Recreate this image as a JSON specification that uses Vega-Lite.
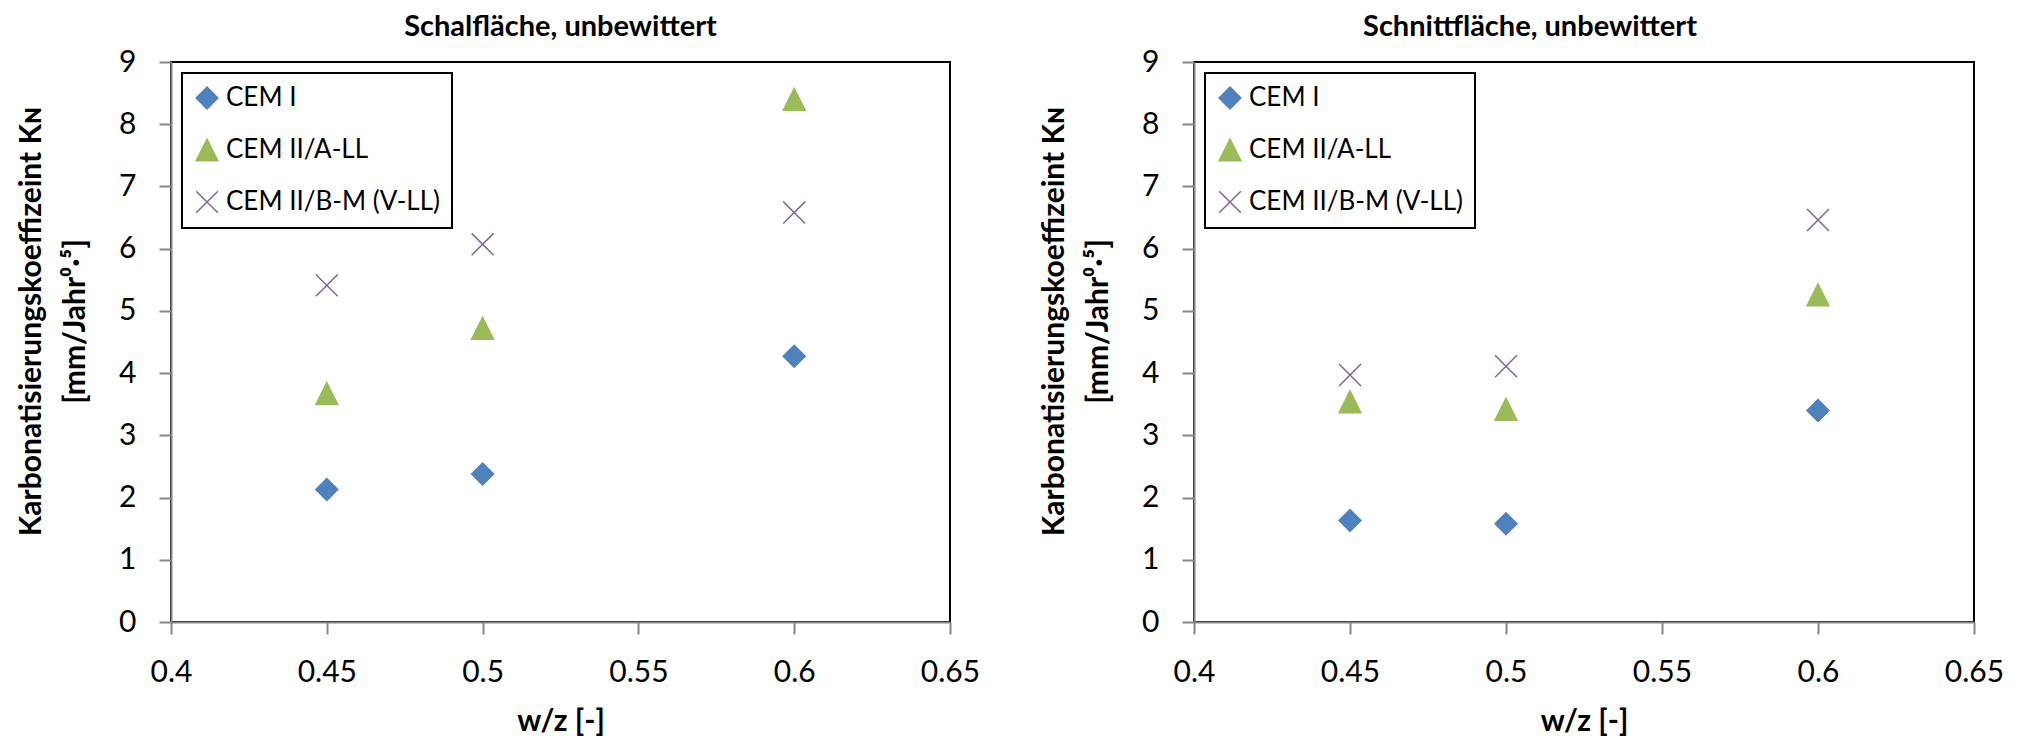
{
  "$schema": "https://vega.github.io/schema/vega-lite/v6.json",
  "background": "white",
  "padding": {"left": 15, "top": 12, "right": 10, "bottom": 0},
  "datasets": {
    "pts": [
      {"panel": "Schalfläche", "wz": 0.45, "k": 2.13, "cement": "CEM I"},
      {"panel": "Schalfläche", "wz": 0.5, "k": 2.38, "cement": "CEM I"},
      {"panel": "Schalfläche", "wz": 0.6, "k": 4.27, "cement": "CEM I"},
      {"panel": "Schalfläche", "wz": 0.45, "k": 3.67, "cement": "CEM II/A-LL"},
      {"panel": "Schalfläche", "wz": 0.5, "k": 4.72, "cement": "CEM II/A-LL"},
      {"panel": "Schalfläche", "wz": 0.6, "k": 8.4, "cement": "CEM II/A-LL"},
      {"panel": "Schalfläche", "wz": 0.45, "k": 5.41, "cement": "CEM II/B-M (V-LL)"},
      {"panel": "Schalfläche", "wz": 0.5, "k": 6.07, "cement": "CEM II/B-M (V-LL)"},
      {"panel": "Schalfläche", "wz": 0.6, "k": 6.58, "cement": "CEM II/B-M (V-LL)"},
      {"panel": "Schnittfläche", "wz": 0.45, "k": 1.63, "cement": "CEM I"},
      {"panel": "Schnittfläche", "wz": 0.5, "k": 1.58, "cement": "CEM I"},
      {"panel": "Schnittfläche", "wz": 0.6, "k": 3.4, "cement": "CEM I"},
      {"panel": "Schnittfläche", "wz": 0.45, "k": 3.54, "cement": "CEM II/A-LL"},
      {"panel": "Schnittfläche", "wz": 0.5, "k": 3.42, "cement": "CEM II/A-LL"},
      {"panel": "Schnittfläche", "wz": 0.6, "k": 5.26, "cement": "CEM II/A-LL"},
      {"panel": "Schnittfläche", "wz": 0.45, "k": 3.97, "cement": "CEM II/B-M (V-LL)"},
      {"panel": "Schnittfläche", "wz": 0.5, "k": 4.11, "cement": "CEM II/B-M (V-LL)"},
      {"panel": "Schnittfläche", "wz": 0.6, "k": 6.46, "cement": "CEM II/B-M (V-LL)"}
    ]
  },
  "config": {
    "font": "Lato",
    "view": {"stroke": "black", "strokeWidth": 2},
    "axis": {
      "grid": false,
      "domainColor": "#868686",
      "domainWidth": 2,
      "tickColor": "#868686",
      "tickWidth": 2,
      "tickSize": 12,
      "labelFont": "Lato",
      "labelFontSize": 30,
      "labelColor": "black",
      "labelPadding": 23,
      "labelOverlap": false,
      "labelFlush": false,
      "labelBound": false,
      "titleFont": "Lato",
      "titleFontSize": 30,
      "titleFontWeight": "bold",
      "titleColor": "black",
      "zindex": 1
    },
    "title": {
      "font": "Lato",
      "fontSize": 29,
      "fontWeight": "bold",
      "color": "black",
      "anchor": "middle",
      "frame": "group",
      "baseline": "alphabetic",
      "offset": 5
    },
    "legend": {
      "title": null,
      "strokeColor": "black",
      "strokeWidth": 2,
      "fillColor": "white",
      "padding": 12,
      "rowPadding": 24,
      "symbolSize": 470,
      "symbolStrokeWidth": 1.5,
      "labelFont": "Lato",
      "labelFontSize": 26,
      "labelColor": "black",
      "labelOffset": 6,
      "labelLimit": 0
    },
    "concat": {"spacing": 57}
  },
  "resolve": {
    "scale": {"fill": "independent", "stroke": "independent", "shape": "independent"},
    "legend": {"fill": "independent", "stroke": "independent", "shape": "independent"}
  },
  "hconcat": [
    {
      "title": {"text": "Schalfläche, unbewittert"},
      "width": 779,
      "height": 560,
      "data": {"name": "pts"},
      "transform": [{"filter": "datum.panel === 'Schalfläche'"}],
      "mark": {"type": "point", "filled": true, "size": 480, "strokeWidth": 1.5, "opacity": 1},
      "encoding": {
        "x": {
          "field": "wz", "type": "quantitative",
          "scale": {"domain": [0.4, 0.65], "nice": false, "zero": false},
          "axis": {"values": [0.4, 0.45, 0.5, 0.55, 0.6, 0.65], "format": "~g", "title": "w/z [-]", "titleY": 108, "titleBaseline": "alphabetic"}
        },
        "y": {
          "field": "k", "type": "quantitative",
          "scale": {"domain": [0, 9], "nice": false},
          "axis": {"values": [0, 1, 2, 3, 4, 5, 6, 7, 8, 9], "title": ["Karbonatisierungskoeffizeint Kɴ", "[mm/Jahr⁰·⁵]"], "titleX": -155, "titleY": 259, "titleAngle": -90, "titleBaseline": "top", "titleAlign": "center", "titleLineHeight": 44}
        },
        "fill": {
          "field": "cement", "type": "nominal",
          "scale": {"domain": ["CEM I", "CEM II/A-LL", "CEM II/B-M (V-LL)"], "range": ["#4F81BD", "#9BBB59", "transparent"]},
          "legend": {"orient": "none", "legendX": 11, "legendY": 11}
        },
        "stroke": {
          "field": "cement", "type": "nominal",
          "scale": {"domain": ["CEM I", "CEM II/A-LL", "CEM II/B-M (V-LL)"], "range": ["#4F81BD", "#9BBB59", "#8064A2"]},
          "legend": {"orient": "none", "legendX": 11, "legendY": 11}
        },
        "shape": {
          "field": "cement", "type": "nominal",
          "scale": {"domain": ["CEM I", "CEM II/A-LL", "CEM II/B-M (V-LL)"], "range": ["diamond", "M0,-1L1,1L-1,1Z", "M-1,-1L1,1M-1,1L1,-1"]},
          "legend": {"orient": "none", "legendX": 11, "legendY": 11}
        }
      }
    },
    {
      "title": {"text": "Schnittfläche, unbewittert", "dx": -54},
      "width": 780,
      "height": 560,
      "data": {"name": "pts"},
      "transform": [{"filter": "datum.panel === 'Schnittfläche'"}],
      "mark": {"type": "point", "filled": true, "size": 480, "strokeWidth": 1.5, "opacity": 1},
      "encoding": {
        "x": {
          "field": "wz", "type": "quantitative",
          "scale": {"domain": [0.4, 0.65], "nice": false, "zero": false},
          "axis": {"values": [0.4, 0.45, 0.5, 0.55, 0.6, 0.65], "format": "~g", "title": "w/z [-]", "titleY": 108, "titleBaseline": "alphabetic"}
        },
        "y": {
          "field": "k", "type": "quantitative",
          "scale": {"domain": [0, 9], "nice": false},
          "axis": {"values": [0, 1, 2, 3, 4, 5, 6, 7, 8, 9], "title": ["Karbonatisierungskoeffizeint Kɴ", "[mm/Jahr⁰·⁵]"], "titleX": -155, "titleY": 259, "titleAngle": -90, "titleBaseline": "top", "titleAlign": "center", "titleLineHeight": 44}
        },
        "fill": {
          "field": "cement", "type": "nominal",
          "scale": {"domain": ["CEM I", "CEM II/A-LL", "CEM II/B-M (V-LL)"], "range": ["#4F81BD", "#9BBB59", "transparent"]},
          "legend": {"orient": "none", "legendX": 11, "legendY": 11}
        },
        "stroke": {
          "field": "cement", "type": "nominal",
          "scale": {"domain": ["CEM I", "CEM II/A-LL", "CEM II/B-M (V-LL)"], "range": ["#4F81BD", "#9BBB59", "#8064A2"]},
          "legend": {"orient": "none", "legendX": 11, "legendY": 11}
        },
        "shape": {
          "field": "cement", "type": "nominal",
          "scale": {"domain": ["CEM I", "CEM II/A-LL", "CEM II/B-M (V-LL)"], "range": ["diamond", "M0,-1L1,1L-1,1Z", "M-1,-1L1,1M-1,1L1,-1"]},
          "legend": {"orient": "none", "legendX": 11, "legendY": 11}
        }
      }
    }
  ]
}
